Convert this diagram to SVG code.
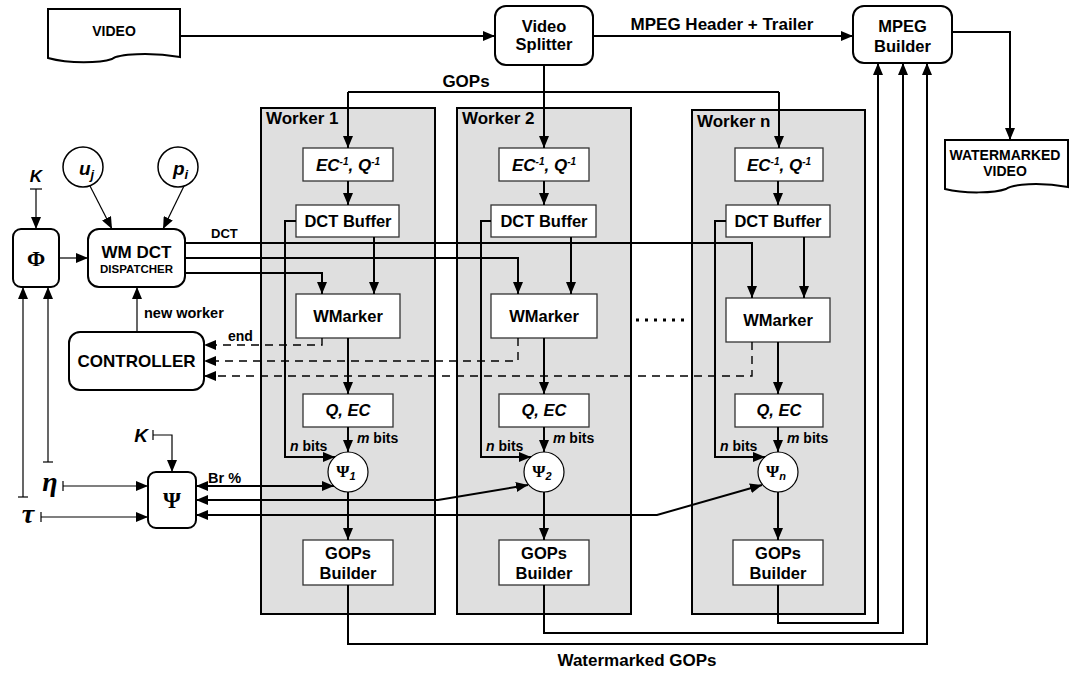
<svg xmlns="http://www.w3.org/2000/svg" width="1070" height="673" viewBox="0 0 1070 673">
<defs>
<marker id="a" viewBox="0 0 12 10" markerUnits="userSpaceOnUse" markerWidth="12" markerHeight="10" refX="12" refY="5" orient="auto-start-reverse" preserveAspectRatio="none"><path d="M0,0 L12,5 L0,10 z" fill="#000"/></marker>
</defs>
<style>
text{font-family:"Liberation Sans",Arial,sans-serif;font-weight:bold;fill:#000}
.n{font-size:16.5px;text-anchor:middle}
.l{font-size:17px}
.s{font-size:14px}
.it{font-style:italic}
.gr{font-family:"Liberation Serif","Times New Roman",serif;font-weight:bold}
.rb{fill:#fff;stroke:#000;stroke-width:2}
.ib{fill:#fff;stroke:#333;stroke-width:1.3}
.wk{fill:#dfdfdf;stroke:#000;stroke-width:2}
.c{fill:none;stroke:#000;stroke-width:2}
.t{fill:none;stroke:#000;stroke-width:1.2}
.d{fill:none;stroke:#000;stroke-width:1.4;stroke-dasharray:8 6}
.ar{marker-end:url(#a)}
.ab{marker-start:url(#a);marker-end:url(#a)}
</style>

<g id="video"><path class="rb" d="M48,9 H180 V57 C150,52 118,54 112,59 C100,63 70,64 48,58 Z"/><text class="n" x="114" y="36" style="font-size:14px">VIDEO</text></g>
<g id="splitter"><rect class="rb" x="495" y="6" width="98" height="59" rx="11"/><text class="n" x="544" y="32">Video</text><text class="n" x="544" y="50">Splitter</text></g>
<g id="mpeg"><rect class="rb" x="853" y="6" width="99" height="57" rx="11"/><text class="n" x="902.5" y="32">MPEG</text><text class="n" x="902.5" y="52">Builder</text></g>
<g id="wmvideo"><path class="rb" d="M945,140 H1068 V187 C1040,182 1012,184 1006,189 C995,193 965,194 945,189 Z"/><text class="n" x="1005" y="160" style="font-size:14px">WATERMARKED</text><text class="n" x="1005" y="176" style="font-size:14px">VIDEO</text></g>

<g id="uj"><circle cx="83" cy="167" r="20" fill="#fff" stroke="#000" stroke-width="1.5"/><text x="79" y="175" class="it" style="font-size:19px">u<tspan dy="4" style="font-size:13px">j</tspan></text></g>
<g id="pi"><circle cx="178" cy="167" r="20" fill="#fff" stroke="#000" stroke-width="1.5"/><text x="173" y="175" class="it" style="font-size:19px">p<tspan dy="4" style="font-size:13px">i</tspan></text></g>
<g id="phi"><rect class="rb" x="13" y="229" width="46" height="58" rx="8"/><text class="gr" x="36" y="266" text-anchor="middle" style="font-size:22px">Φ</text></g>
<g id="dispatcher"><rect class="rb" x="88" y="229" width="97" height="58" rx="11"/><text class="n" x="136.5" y="258" style="font-size:17px">WM DCT</text><text class="n" x="136.5" y="273" style="font-size:11.5px">DISPATCHER</text></g>
<g id="controller"><rect class="rb" x="69" y="332" width="135" height="58" rx="11"/><text class="n" x="136.5" y="367" style="font-size:17px">CONTROLLER</text></g>
<g id="psi"><rect class="rb" x="148" y="472" width="48" height="56" rx="8"/><text class="gr" x="172" y="508" text-anchor="middle" style="font-size:23px">Ψ</text></g>
<g id="k1"><text class="it" x="36" y="182" text-anchor="middle" style="font-size:17px">K</text></g>
<g id="k2"><text class="it" x="141" y="442" text-anchor="middle" style="font-size:19px">K</text></g>
<g id="eta"><text class="gr it" x="50" y="491" text-anchor="middle" style="font-size:28px">η</text></g>
<g id="tau"><text class="gr it" x="28" y="523" text-anchor="middle" style="font-size:28px">τ</text></g>

<g id="worker1">
<rect class="wk" x="261" y="108" width="174" height="506"/>
<text class="l" x="266" y="124">Worker 1</text>
<rect class="ib" x="303" y="148" width="90" height="33"/><text class="n it" x="348" y="171" style="font-size:17px">EC<tspan dy="-6" style="font-size:10px">-1</tspan><tspan dy="6">, Q</tspan><tspan dy="-6" style="font-size:10px">-1</tspan></text>
<rect class="ib" x="296" y="205" width="103" height="32"/><text class="n" x="348" y="227">DCT Buffer</text>
<rect class="ib" x="296" y="294" width="104" height="44"/><text class="n" x="348" y="322">WMarker</text>
<rect class="ib" x="303" y="394" width="90" height="33"/><text class="n it" x="348" y="416">Q, EC</text>
<circle cx="348" cy="472" r="20" fill="#fff" stroke="#000" stroke-width="1.2"/><text class="gr" x="346" y="477" text-anchor="middle" style="font-size:17px">Ψ<tspan dy="3" class="it" style="font-family:'Liberation Sans',Arial,sans-serif;font-size:11px">1</tspan></text>
<rect class="ib" x="303" y="540" width="90" height="45"/><text class="n" x="348" y="559">GOPs</text><text class="n" x="348" y="579">Builder</text>
</g>
<g id="worker2">
<rect class="wk" x="457" y="108" width="174" height="506"/>
<text class="l" x="462" y="124">Worker 2</text>
<rect class="ib" x="499" y="148" width="90" height="33"/><text class="n it" x="544" y="171" style="font-size:17px">EC<tspan dy="-6" style="font-size:10px">-1</tspan><tspan dy="6">, Q</tspan><tspan dy="-6" style="font-size:10px">-1</tspan></text>
<rect class="ib" x="491" y="205" width="105" height="32"/><text class="n" x="544" y="227">DCT Buffer</text>
<rect class="ib" x="491" y="294" width="106" height="44"/><text class="n" x="544" y="322">WMarker</text>
<rect class="ib" x="499" y="394" width="90" height="33"/><text class="n it" x="544" y="416">Q, EC</text>
<circle cx="544" cy="472" r="20" fill="#fff" stroke="#000" stroke-width="1.2"/><text class="gr" x="542" y="477" text-anchor="middle" style="font-size:17px">Ψ<tspan dy="3" class="it" style="font-family:'Liberation Sans',Arial,sans-serif;font-size:11px">2</tspan></text>
<rect class="ib" x="499" y="540" width="90" height="45"/><text class="n" x="544" y="559">GOPs</text><text class="n" x="544" y="579">Builder</text>
</g>
<g id="workern">
<rect class="wk" x="692" y="110" width="173" height="504"/>
<text class="l" x="697" y="127">Worker n</text>
<rect class="ib" x="735" y="148" width="88" height="33"/><text class="n it" x="779" y="171" style="font-size:17px">EC<tspan dy="-6" style="font-size:10px">-1</tspan><tspan dy="6">, Q</tspan><tspan dy="-6" style="font-size:10px">-1</tspan></text>
<rect class="ib" x="726" y="205" width="104" height="32"/><text class="n" x="778" y="227">DCT Buffer</text>
<rect class="ib" x="726" y="298" width="104" height="44"/><text class="n" x="778" y="326">WMarker</text>
<rect class="ib" x="735" y="394" width="88" height="33"/><text class="n it" x="779" y="416">Q, EC</text>
<circle cx="778" cy="472" r="20" fill="#fff" stroke="#000" stroke-width="1.2"/><text class="gr" x="776" y="477" text-anchor="middle" style="font-size:17px">Ψ<tspan dy="3" class="it" style="font-family:'Liberation Sans',Arial,sans-serif;font-size:11px">n</tspan></text>
<rect class="ib" x="733" y="540" width="90" height="45"/><text class="n" x="778" y="559">GOPs</text><text class="n" x="778" y="579">Builder</text>
</g>

<g id="connectors">
<path class="c ar" d="M180,36 H495"/>
<path class="c ar" d="M593,36 H853"/>
<text class="l" x="722" y="30" text-anchor="middle">MPEG Header + Trailer</text>
<path class="c ar" d="M952,32 H1010 V140"/>
<path class="c ar" d="M544,65 V148"/>
<path class="c" d="M348,92 H779"/>
<path class="c ar" d="M348,92 V148"/>
<path class="c ar" d="M779,92 V148"/>
<text class="l" x="466" y="87" text-anchor="middle">GOPs</text>

<path class="c ar" d="M348,181 V205"/>
<path class="c ar" d="M544,181 V205"/>
<path class="c ar" d="M778,181 V205"/>
<path class="c ar" d="M374,237 V294"/>
<path class="c ar" d="M571,237 V294"/>
<path class="c ar" d="M804,237 V298"/>
<path class="c ar" d="M348,338 V394"/>
<path class="c ar" d="M544,338 V394"/>
<path class="c ar" d="M778,342 V394"/>
<path class="c ar" d="M348,427 V452"/>
<path class="c ar" d="M544,427 V452"/>
<path class="c ar" d="M778,427 V452"/>
<path class="c ar" d="M348,492 V540"/>
<path class="c ar" d="M544,492 V540"/>
<path class="c ar" d="M778,492 V540"/>
<path class="c ar" d="M296,221 H285 V457 H335"/>
<path class="c ar" d="M491,221 H481 V457 H531"/>
<path class="c ar" d="M726,221 H715 V457 H765"/>
<text class="s" x="290" y="451"><tspan class="it">n</tspan> bits</text>
<text class="s" x="486" y="451"><tspan class="it">n</tspan> bits</text>
<text class="s" x="720" y="451"><tspan class="it">n</tspan> bits</text>
<text class="s" x="357" y="443"><tspan class="it">m</tspan> bits</text>
<text class="s" x="553" y="443"><tspan class="it">m</tspan> bits</text>
<text class="s" x="787" y="443"><tspan class="it">m</tspan> bits</text>

<path class="c ar" d="M185,243 H752 V298"/>
<path class="c ar" d="M185,258 H518 V294"/>
<path class="c ar" d="M185,273 H322 V294"/>
<text x="211" y="238" style="font-size:13px">DCT</text>

<path class="d ar" d="M322,338 V345 H204"/>
<path class="d ar" d="M518,338 V361 H204"/>
<path class="d ar" d="M752,342 V376 H204"/>
<text x="228" y="341" style="font-size:14px">end</text>
<path class="t ar" d="M137,332 V287"/>
<text x="144" y="318" style="font-size:14.5px">new worker</text>
<path class="t ar" d="M90,186 L112,229"/>
<path class="t ar" d="M184,186 L163,229"/>
<path class="t ar" d="M59,258 H88"/>
<path class="t" d="M30,189 H42"/>
<path class="t ar" d="M36,189 V229"/>
<path class="t ar" d="M23,497 V287"/>
<path class="t" d="M18,497 H28"/>
<path class="t ar" d="M48,462 V287"/>
<path class="t" d="M43,462 H53"/>
<path class="t" d="M63,481 V491"/>
<path class="t ar" d="M63,486 H148"/>
<path class="t" d="M41,512 V522"/>
<path class="t ar" d="M41,517 H148"/>
<path class="t" d="M153,430 V440"/>
<path class="t ar" d="M153,435 H172 V472"/>

<path class="c ab" d="M196,486 H334"/>
<path class="c ab" d="M196,500 H438 L528,485"/>
<path class="c ab" d="M196,515 H657 L762,485"/>
<text x="208" y="483" style="font-size:14.5px">Br %</text>

<path class="c" d="M636,320 H686" style="stroke-width:3;stroke-dasharray:3 6"/>

<path class="c ar" d="M348,585 V644 H927 V63"/>
<path class="c ar" d="M544,585 V633 H903 V63"/>
<path class="c ar" d="M778,585 V623 H878 V63"/>
<text class="l" x="637" y="666" text-anchor="middle">Watermarked GOPs</text>
</g>
</svg>
